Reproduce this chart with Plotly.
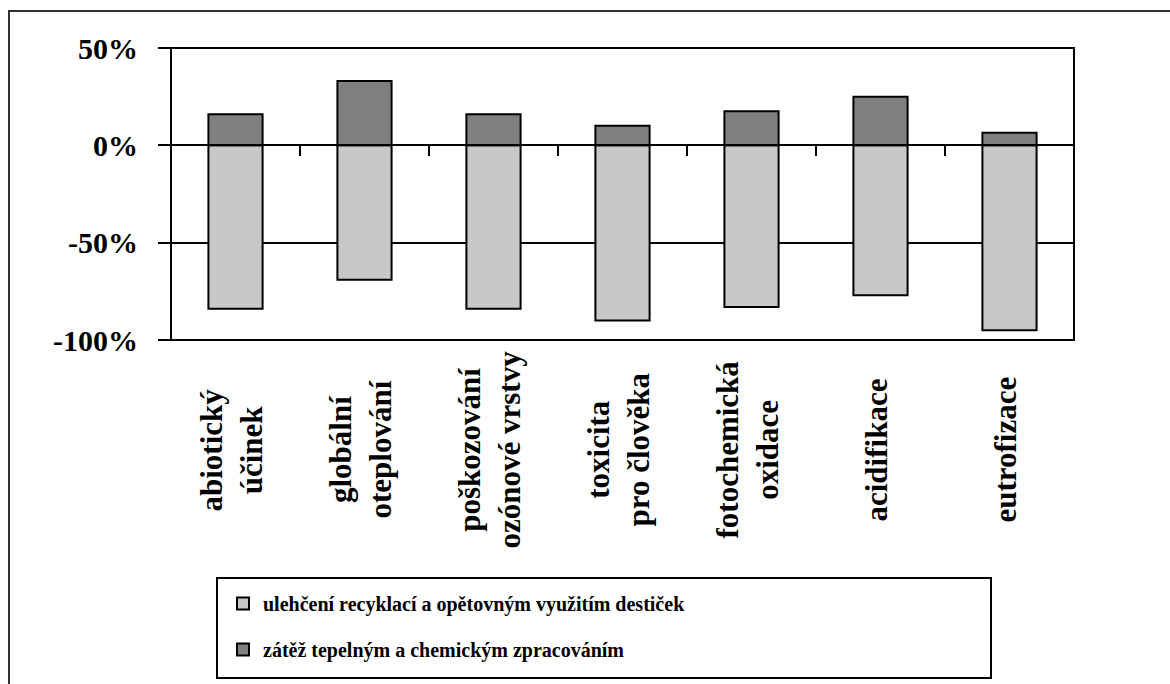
import plotly.graph_objects as go

# ---- data ----
categories = [
    "abiotický<br>účinek",
    "globální<br>oteplování",
    "poškozování<br>ozónové vrstvy",
    "toxicita<br>pro člověka",
    "fotochemická<br>oxidace",
    "acidifikace",
    "eutrofizace",
]
ulehceni = [-84, -69, -84, -90, -83, -77, -95]
zatez = [16, 33, 16, 10, 17.5, 25, 6.5]
name_ulehceni = "ulehčení recyklací a opětovným využitím destiček"
name_zatez = "zátěž tepelným a chemickým zpracováním"
y_ticks = [-100, -50, 0, 50]
y_ticktext = ["-100%", "-50%", "0%", "50%"]

FONT = "Liberation Serif"
W, H = 1170, 684
ML, MR, MT, MB = 171, 96, 48, 344
PW = W - ML - MR
PH = H - MT - MB


def px_x(px):
    return (px - ML) / PW


def px_y(py):
    return (H - MB - py) / PH


fig = go.Figure()
fig.add_trace(go.Bar(
    x=categories, y=ulehceni, name=name_ulehceni, legendgroup="a",
    marker=dict(color="#C8C8C8", line=dict(color="black", width=2)),
))
fig.add_trace(go.Bar(
    x=categories, y=zatez, name=name_zatez, legendgroup="b",
    marker=dict(color="#808080", line=dict(color="black", width=2)),
))

ymin, ymax = y_ticks[0], y_ticks[-1]
zero_pos = (0 - ymin) / (ymax - ymin)

annotations = []
for c in categories:
    annotations.append(dict(
        x=c, xref="x", y=px_y(450), yref="paper", xshift=-5,
        text=c, showarrow=False, textangle=-90,
        xanchor="center", yanchor="middle", align="center",
        font=dict(family=FONT, size=31, color="black", weight="bold"),
    ))

shapes = [
    # outer frame (clipped on right/bottom)
    dict(type="rect", xref="paper", yref="paper",
         x0=px_x(9), x1=px_x(1200), y0=px_y(720), y1=px_y(11),
         line=dict(color="#303030", width=2), layer="below"),
    # plot area border
    dict(type="rect", xref="paper", yref="paper", x0=0, x1=1, y0=0, y1=1,
         line=dict(color="black", width=2)),
    # legend border
    dict(type="rect", xref="paper", yref="paper",
         x0=px_x(217), x1=px_x(991), y0=px_y(678), y1=px_y(578),
         line=dict(color="black", width=2)),
]

fig.update_layout(
    width=W, height=H,
    margin=dict(l=ML, r=MR, t=MT, b=MB, pad=0),
    paper_bgcolor="white", plot_bgcolor="white",
    barmode="relative", bargap=0.58,
    showlegend=True,
    legend=dict(
        x=px_x(223), y=px_y(584), xanchor="left", yanchor="top",
        bgcolor="rgba(0,0,0,0)", borderwidth=0,
        traceorder="grouped", tracegroupgap=17,
        font=dict(family=FONT, size=20, color="black", weight="bold"),
    ),
    xaxis=dict(
        type="category", range=[-0.5, len(categories) - 0.5],
        anchor="free", position=zero_pos,
        showline=True, linecolor="black", linewidth=2,
        ticks="outside", tickson="boundaries", ticklen=10, tickwidth=2, tickcolor="black",
        showticklabels=False, showgrid=False, zeroline=False,
    ),
    yaxis=dict(
        range=[ymin, ymax], tickvals=y_ticks, ticktext=y_ticktext,
        showgrid=True, gridcolor="black", gridwidth=2,
        zeroline=True, zerolinecolor="black", zerolinewidth=2,
        showline=False, ticks="outside", ticklen=12, tickwidth=2, tickcolor="black",
        ticklabelstandoff=14,
        tickfont=dict(family=FONT, size=30, color="black", weight="bold"),
    ),
    annotations=annotations,
    shapes=shapes,
)

fig.write_html(
    "out.html",
    config={"displayModeBar": False},
    post_script="document.body.style.margin='0';document.body.style.overflow='hidden';",
)
